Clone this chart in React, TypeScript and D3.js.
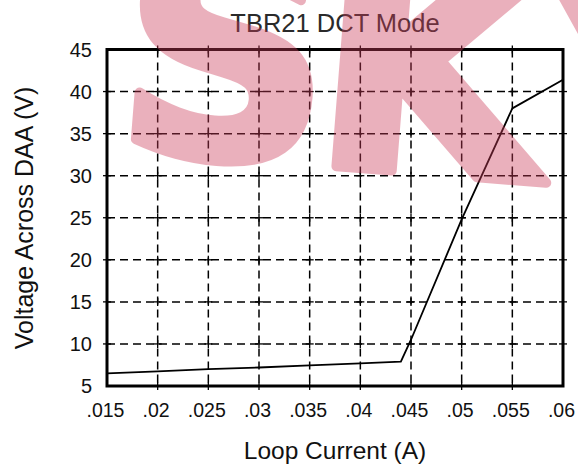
import React from "react";
import * as d3 from "d3";

const currents = [0.015, 0.02, 0.025, 0.03, 0.035, 0.04, 0.044, 0.045, 0.05, 0.055, 0.06];
const voltages = [6.5, 6.75, 7.0, 7.2, 7.45, 7.7, 7.9, 10.5, 24.8, 38.0, 41.4];
const xTicks = [0.015, 0.02, 0.025, 0.03, 0.035, 0.04, 0.045, 0.05, 0.055, 0.06];
const xTickLabels = [".015", ".02", ".025", ".03", ".035", ".04", ".045", ".05", ".055", ".06"];
const yTicks = [5, 10, 15, 20, 25, 30, 35, 40, 45];
const title = "TBR21 DCT Mode";
const xTitle = "Loop Current (A)";
const yTitle = "Voltage Across DAA (V)";
const watermarkLetters = ["S", "K", "Y"];

const W = 578;
const H = 464;
const M = { left: 107, right: 563, top: 49.5, bottom: 386 };
const FONT = "'Liberation Sans', Arial, Helvetica, sans-serif";
const WM_X = [-18, 180, 404];

export default function App() {
  const x = d3.scaleLinear().domain([0.015, 0.06]).range([M.left, M.right]);
  const y = d3.scaleLinear().domain([5, 45]).range([M.bottom, M.top]);
  const pts: [number, number][] = currents.map((c, i) => [c, voltages[i]]);
  const line = d3
    .line<[number, number]>()
    .x((d) => x(d[0]))
    .y((d) => y(d[1]));

  const inner = xTicks.slice(1, -1);
  const innerY = yTicks.slice(1, -1);

  return (
    <svg
      width={W}
      height={H}
      style={{ position: "absolute", left: 0, top: 0, background: "#fff" }}
      fontFamily={FONT}
    >
      <rect x={0} y={0} width={W} height={H} fill="#fff" />
      {/* grid */}
      {inner.map((t) => (
        <line
          key={"gx" + t}
          x1={x(t)}
          x2={x(t)}
          y1={M.top}
          y2={M.bottom}
          stroke="#000"
          strokeWidth={1.5}
          strokeDasharray="8 5"
        />
      ))}
      {innerY.map((t) => (
        <line
          key={"gy" + t}
          x1={M.left}
          x2={M.right}
          y1={y(t)}
          y2={y(t)}
          stroke="#000"
          strokeWidth={1.5}
          strokeDasharray="8 5"
        />
      ))}
      {/* cross marks at intersections */}
      {inner.map((tx) =>
        yTicks.map((ty) => (
          <g key={"c" + tx + "_" + ty}>
            <line x1={x(tx) - 4} x2={x(tx) + 4} y1={y(ty)} y2={y(ty)} stroke="#000" strokeWidth={1.3} />
            <line x1={x(tx)} x2={x(tx)} y1={y(ty) - 4} y2={y(ty) + 4} stroke="#000" strokeWidth={1.3} />
          </g>
        ))
      )}
      {[xTicks[0], xTicks[xTicks.length - 1]].map((tx) =>
        innerY.map((ty) => (
          <line key={"e" + tx + "_" + ty} x1={x(tx) - 4} x2={x(tx) + 4} y1={y(ty)} y2={y(ty)} stroke="#000" strokeWidth={1.3} />
        ))
      )}
      {/* data */}
      <path d={line(pts) || ""} fill="none" stroke="#000" strokeWidth={1.8} strokeLinejoin="round" />
      {/* frame */}
      <rect
        x={M.left}
        y={M.top}
        width={M.right - M.left}
        height={M.bottom - M.top}
        fill="none"
        stroke="#000"
        strokeWidth={3}
      />
      {/* tick labels */}
      {xTicks.map((t, i) => (
        <text key={"xl" + t} x={x(t) - 1.5} y={417} textAnchor="middle" fontSize={19.5} fill="#111">
          {xTickLabels[i]}
        </text>
      ))}
      {yTicks.map((t) => (
        <text key={"yl" + t} x={92} y={y(t) + 7} textAnchor="end" fontSize={20} fill="#111">
          {t}
        </text>
      ))}
      <text x={335} y={32} textAnchor="middle" fontSize={25.5} fill="#2a2a2a">
        {title}
      </text>
      <text x={335} y={459} textAnchor="middle" fontSize={24.5} fill="#111">
        {xTitle}
      </text>
      <text
        transform={`translate(33,218) rotate(-90)`}
        textAnchor="middle"
        fontSize={25}
        fill="#111"
      >
        {yTitle}
      </text>
      {/* watermark */}
      <g opacity={0.4} transform="translate(130,150) rotate(4.5)">
        <text
          fontSize={295}
          fontWeight={900}
          fontFamily="'DejaVu Sans', sans-serif"
          fill="rgb(205,60,90)"
          stroke="rgb(205,60,90)"
          strokeWidth={10}
          strokeLinejoin="round"
        >
          {watermarkLetters.map((l, i) => (
            <tspan key={l} x={WM_X[i]} y={0}>
              {l}
            </tspan>
          ))}
        </text>
      </g>
    </svg>
  );
}
